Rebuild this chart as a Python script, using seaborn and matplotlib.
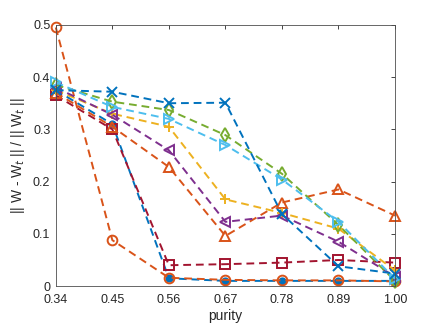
import pandas as pd
import matplotlib
matplotlib.use("Agg")
import matplotlib.pyplot as plt
import seaborn as sns

purity = [0.34, 0.45, 0.56, 0.67, 0.78, 0.89, 1.00]
tick_labels = ["0.34", "0.45", "0.56", "0.67", "0.78", "0.89", "1.00"]

# error values, one list per curve
blue_x = [0.375, 0.372, 0.350, 0.351, 0.138, 0.038, 0.024]
blue_dot = [0.375, 0.310, 0.015, 0.010, 0.010, 0.010, 0.010]
orange_o = [0.495, 0.088, 0.016, 0.012, 0.011, 0.011, 0.009]
yellow_plus = [0.375, 0.330, 0.305, 0.166, 0.140, 0.110, 0.030]
purple_lt = [0.380, 0.328, 0.260, 0.123, 0.135, 0.085, 0.018]
green_d = [0.385, 0.353, 0.337, 0.289, 0.215, 0.117, 0.010]
cyan_gt = [0.390, 0.343, 0.320, 0.270, 0.204, 0.123, 0.014]
red_sq = [0.365, 0.300, 0.040, 0.042, 0.045, 0.050, 0.045]
orange_tri = [0.370, 0.305, 0.228, 0.096, 0.160, 0.185, 0.135]

series = [
    ("blue_dot", blue_dot, "#0072BD", "."),
    ("red_sq", red_sq, "#A2142F", "s"),
    ("orange_o", orange_o, "#D95319", "o"),
    ("orange_tri", orange_tri, "#D95319", "^"),
    ("yellow_plus", yellow_plus, "#EDB120", "+"),
    ("purple_lt", purple_lt, "#7E2F8E", "<"),
    ("green_d", green_d, "#77AC30", "d"),
    ("cyan_gt", cyan_gt, "#4DBEEE", ">"),
    ("blue_x", blue_x, "#0072BD", "x"),
]

sns.set_style("white")
plt.rcParams["font.family"] = ["Liberation Sans", "DejaVu Sans"]

fig = plt.figure(figsize=(4.36, 3.27), dpi=100)
ax = fig.add_axes([0.128, 0.125, 0.778, 0.799])

for name, vals, col, mk in series:
    df = pd.DataFrame({"purity": purity, "err": vals})
    sns.lineplot(data=df, x="purity", y="err", ax=ax, color=col, marker=mk,
                 linewidth=1.4, markersize=7 if mk != "." else 9,
                 markerfacecolor="none" if mk not in ("+", "x", ".") else col,
                 markeredgecolor=col, markeredgewidth=1.4, clip_on=False)

# seaborn may reset the style, force the dashed look
for ln in ax.lines:
    ln.set_linestyle((0, (4, 2.5)))

ax.set_xlim(0.34, 1.00)
ax.set_ylim(0, 0.5)
ax.set_xticks(purity)
ax.set_xticklabels(tick_labels)
ax.set_yticks([0, 0.1, 0.2, 0.3, 0.4, 0.5])
ax.set_yticklabels(["0", "0.1", "0.2", "0.3", "0.4", "0.5"])
ax.tick_params(direction="in", top=True, right=True, labelsize=9,
               colors="#262626", length=3, width=0.6)
ax.tick_params(axis="x", pad=6)
ax.tick_params(axis="y", pad=4)
for s in ax.spines.values():
    s.set_visible(True)
    s.set_color("#4d4d4d")
    s.set_linewidth(0.6)
ax.set_xlabel("purity", fontsize=10, color="#262626", labelpad=2)
ax.set_ylabel("|| W - W$_t$ || / || W$_t$ ||", fontsize=10, color="#262626")

fig.savefig("out.png", dpi=100)
